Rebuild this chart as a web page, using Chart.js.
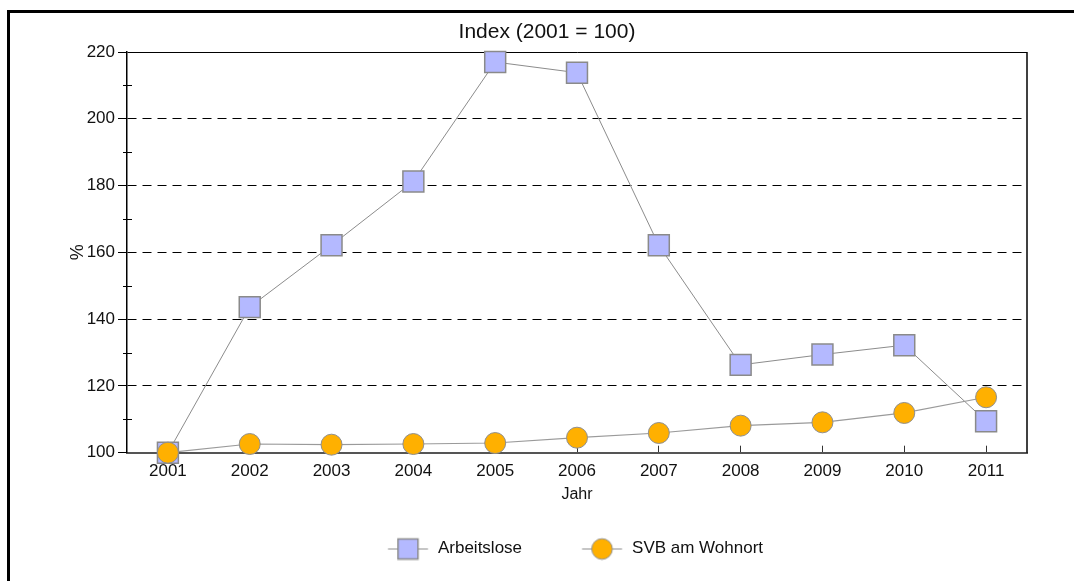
<!DOCTYPE html>
<html><head><meta charset="utf-8">
<script src="https://cdn.jsdelivr.net/npm/chart.js@4/dist/chart.umd.min.js"></script>
<style>html,body{margin:0;padding:0;background:#fff;}#wrap{position:relative;width:1074px;height:581px;}</style>
</head><body><div id="wrap"><canvas id="c" width="1074" height="581"></canvas></div>
<script>
const years = ['2001','2002','2003','2004','2005','2006','2007','2008','2009','2010','2011'];
const arbeitslose = [100, 143.6, 162.1, 181.2, 217.0, 213.8, 162.1, 126.3, 129.4, 132.2, 109.4];
const svbWohnort = [100, 102.6, 102.4, 102.6, 102.9, 104.5, 105.9, 108.1, 109.1, 111.9, 116.6];
const yTickValues = [100, 120, 140, 160, 180, 200, 220];
const yMinorValues = [110, 130, 150, 170, 190, 210];
const seriesNames = ['Arbeitslose', 'SVB am Wohnort'];
const chartTitle = 'Index (2001 = 100)';
const xTitle = 'Jahr';
const yTitle = '%';

const FONT = "'Liberation Sans', Arial, sans-serif";
const SQ_FILL = '#b4b9ff', SQ_LINE = '#8a8a8a';
const CI_FILL = '#ffb000', CI_LINE = '#8f8f8f';
const LINE_COL = '#8c8c8c';

function legendIcon(kind) {
  const c = document.createElement('canvas');
  c.width = 100; c.height = 24;
  const g = c.getContext('2d');
  const cx = 47.75, cy = 12;
  g.strokeStyle = LINE_COL; g.lineWidth = 1;
  g.beginPath(); g.moveTo(cx - 20, cy + 0.5); g.lineTo(cx + 20, cy + 0.5); g.stroke();
  if (kind === 'rect') {
    g.fillStyle = SQ_FILL; g.fillRect(cx - 10, cy - 9.5, 20, 20);
    g.strokeStyle = SQ_LINE; g.lineWidth = 1.5; g.strokeRect(cx - 10, cy - 9.5, 20, 20);
  } else {
    g.beginPath(); g.arc(cx, cy + 0.5, 10.3, 0, Math.PI * 2);
    g.fillStyle = CI_FILL; g.fill();
    g.strokeStyle = CI_LINE; g.lineWidth = 1; g.stroke();
  }
  return c;
}
const icons = [legendIcon('rect'), legendIcon('circle')];

const framePlugin = {
  id: 'frame',
  beforeDraw(chart) {
    const ctx = chart.ctx;
    ctx.save();
    ctx.fillStyle = '#fff';
    ctx.fillRect(0, 0, chart.width, chart.height);
    ctx.fillStyle = '#000';
    ctx.fillRect(7, 10, 3, chart.height - 10);
    ctx.fillRect(7, 10, chart.width - 7, 3);
    ctx.restore();
  },
  beforeDatasetsDraw(chart) {
    const ctx = chart.ctx, a = chart.chartArea, y = chart.scales.y;
    ctx.save();
    ctx.strokeStyle = '#000';
    ctx.lineWidth = 1.5;
    ctx.beginPath();
    ctx.moveTo(a.right, a.top); ctx.lineTo(a.right, a.bottom);
    ctx.stroke();
    ctx.lineWidth = 1;
    yMinorValues.forEach(v => {
      const p = Math.round(y.getPixelForValue(v)) + 0.5;
      ctx.beginPath(); ctx.moveTo(a.left - 4, p); ctx.lineTo(a.left + 5, p); ctx.stroke();
    });
    ctx.restore();
  }
};

new Chart(document.getElementById('c'), {
  type: 'line',
  data: {
    labels: years,
    datasets: [
      { label: seriesNames[0], data: arbeitslose, borderColor: LINE_COL, borderWidth: 1,
        pointStyle: 'rect', pointRadius: 14.8, pointHoverRadius: 14.8,
        pointBackgroundColor: SQ_FILL, pointBorderColor: SQ_LINE, pointBorderWidth: 1.5,
        tension: 0, order: 1, clip: false },
      { label: seriesNames[1], data: svbWohnort, borderColor: '#9a9a9a', borderWidth: 1.2,
        pointStyle: 'circle', pointRadius: 10.5, pointHoverRadius: 10.5,
        pointBackgroundColor: CI_FILL, pointBorderColor: CI_LINE, pointBorderWidth: 1,
        tension: 0, order: 0, clip: false }
    ]
  },
  options: {
    responsive: false, animation: false, devicePixelRatio: 1, events: [],
    layout: { padding: { left: 67, right: 47, top: 12, bottom: 14 } },
    plugins: {
      tooltip: { enabled: false },
      title: { display: true, text: chartTitle, color: '#111',
        font: { family: FONT, size: 21, weight: 'normal', lineHeight: 1.2 },
        padding: { top: 7.4, bottom: 7.4 } },
      legend: {
        position: 'bottom', fullSize: false, align: 'center',
        labels: {
          usePointStyle: true, pointStyleWidth: 38.5, padding: 63, color: '#111',
          font: { family: FONT, size: 17 },
          generateLabels: () => seriesNames.map((n, i) => ({
            text: n, pointStyle: icons[i], datasetIndex: i, hidden: false,
            fillStyle: 'rgba(0,0,0,0)', strokeStyle: 'rgba(0,0,0,0)', lineWidth: 0, fontColor: '#111'
          }))
        }
      }
    },
    scales: {
      x: {
        type: 'category', offset: true,
        grid: { display: true, drawOnChartArea: false, drawTicks: true, tickLength: -7, tickColor: '#333', tickWidth: 1 },
        border: { display: true, color: '#555', width: 2 },
        ticks: { color: '#111', font: { family: FONT, size: 17, lineHeight: 1.2 }, padding: 15.3, autoSkip: false, maxRotation: 0 },
        title: { display: true, text: xTitle, color: '#111', font: { family: FONT, size: 16, lineHeight: 1.2 },
          padding: { top: -11.8, bottom: -27.1 } }
      },
      y: {
        type: 'linear', min: 100, max: 220,
        afterBuildTicks: s => { s.ticks = yTickValues.map(v => ({ value: v })); },
        afterFit: s => { s.width = 60; },
        ticks: { color: '#111', font: { family: FONT, size: 17, lineHeight: 1.2 }, padding: 3 },
        grid: { color: c => (c.tick && c.tick.value === 100) ? 'rgba(0,0,0,0)' : '#000', lineWidth: 1,
          drawTicks: true, tickLength: 9, tickColor: '#000', tickWidth: 1 },
        border: { display: true, color: '#000', width: 1.5,
          dash: c => (c.tick && c.tick.value === 220) ? [] : [9, 6] },
        title: { display: true, text: yTitle, color: '#111', font: { family: FONT, size: 18, lineHeight: 1.2 },
          padding: { top: 0.7, bottom: 0 } }
      }
    }
  },
  plugins: [framePlugin]
});
</script></body></html>
